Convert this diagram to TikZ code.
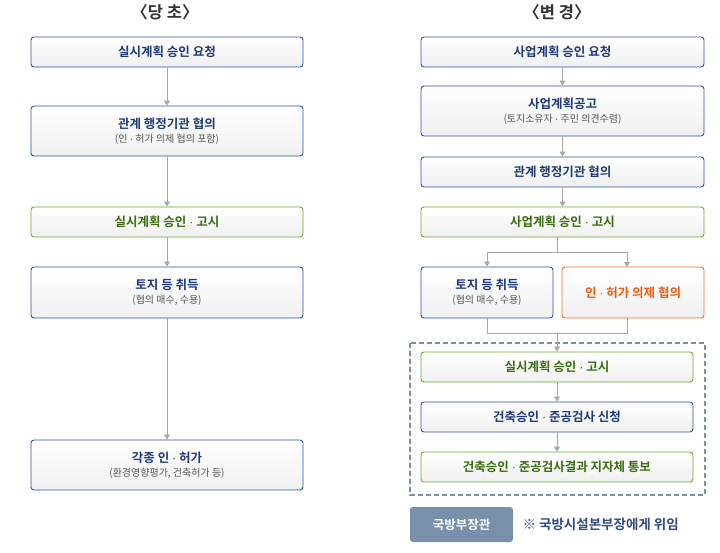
\documentclass[tikz,border=0pt]{standalone}
\usepackage{fontspec}
\setmainfont{Noto Sans CJK KR}
\newfontfamily\kb{Noto Sans CJK KR Bold}
\newfontfamily\dotf{Liberation Sans}
\newcommand{\md}{{\dotf ·}}
\usetikzlibrary{arrows.meta}
\definecolor{bl}{HTML}{2A52A8}
\definecolor{blt}{HTML}{1F3A7A}
\definecolor{gr}{HTML}{6AAA30}
\definecolor{grt}{HTML}{3A6E10}
\definecolor{orb}{HTML}{FF6A30}
\definecolor{ort}{HTML}{F25A10}
\definecolor{ln}{HTML}{A8A8A8}
\definecolor{sub}{HTML}{555555}
\definecolor{lg}{HTML}{7890AA}
\tikzset{
 bx/.style={draw=bl,line width=0.9pt,rounded corners=3pt,top color=white,bottom color=black!6,align=center,text=blt,font=\kb\fontsize{12.5}{15}\selectfont},
 gbx/.style={bx,draw=gr,text=grt},
 obx/.style={bx,draw=orb,text=ort},
 ar/.style={draw=ln,line width=0.8pt,-{Triangle[length=5pt,width=6pt]}},
 lnk/.style={draw=ln,line width=0.8pt}
}
\newcommand{\twol}[2]{#1\\[-1pt]{\fontspec{Noto Sans CJK KR}\fontsize{10}{12}\selectfont\color{sub}#2}}
\begin{document}
\begin{tikzpicture}[x=1pt,y=-1pt]
\useasboundingbox (0,0) rectangle (720,552);
\node[font=\kb\fontsize{16.5}{19}\selectfont,text=black!80] (h1) at (165,12) {〈당 초〉};
\node[font=\kb\fontsize{16.5}{19}\selectfont,text=black!80] (h2) at (557,12) {〈변 경〉};
% left
\node[bx,minimum width=272pt,minimum height=30pt] (l1) at (167,52) {실시계획 승인 요청};
\node[bx,minimum width=272pt,minimum height=50pt] (l2) at (167,131) {\twol{관계 행정기관 협의}{(인 \md{} 허가 의제 협의 포함)}};
\node[gbx,minimum width=272pt,minimum height=30pt] (l3) at (167,222) {실시계획 승인 \md{} 고시};
\node[bx,minimum width=272pt,minimum height=51pt] (l4) at (167,292.5) {\twol{토지 등 취득}{(협의 매수, 수용)}};
\node[bx,minimum width=272pt,minimum height=50pt] (l5) at (167,465) {\twol{각종 인 \md{} 허가}{(환경영향평가, 건축허가 등)}};
\foreach \a/\b in {l1/l2,l2/l3,l3/l4,l4/l5} \draw[ar] (\a.south) -- (\b.north);
% right
\node[bx,minimum width=283pt,minimum height=30pt] (r1) at (562.5,52) {사업계획 승인 요청};
\node[bx,minimum width=283pt,minimum height=50pt] (r2) at (562.5,111) {\twol{사업계획공고}{(토지소유자 \md{} 주민 의견수렴)}};
\node[bx,minimum width=283pt,minimum height=30pt] (r3) at (562.5,172) {관계 행정기관 협의};
\node[gbx,minimum width=283pt,minimum height=30pt] (r4) at (562.5,222) {사업계획 승인 \md{} 고시};
\node[bx,minimum width=132pt,minimum height=51pt] (r5) at (487,292.5) {\twol{토지 등 취득}{(협의 매수, 수용)}};
\node[obx,minimum width=142pt,minimum height=51pt] (r6) at (633,292.5) {인 \md{} 허가 의제 협의};
\draw[ar] (r1.south) -- (r2.north);
\draw[ar] (r2.south) -- (r3.north);
\draw[ar] (r3.south) -- (r4.north);
\coordinate (sp) at (557,252);
\draw[lnk] (557,237) -- (sp);
\draw[ar] (487,252) -- (r5.north);
\draw[ar] (627,252) -- (627,267);
\draw[lnk] (487,252) -- (627,252);
\draw[lnk] (r5.south) -- (487,333) -- (627,333) -- (627,318);
\draw[draw=lg,line width=1.2pt,dash pattern=on 5pt off 3pt] (410,343) rectangle (705,495);
\node[gbx,minimum width=272pt,minimum height=30pt] (r7) at (557,367) {실시계획 승인 \md{} 고시};
\node[bx,minimum width=272pt,minimum height=30pt] (r8) at (557,417) {건축승인 \md{} 준공검사 신청};
\node[gbx,minimum width=272pt,minimum height=30pt] (r9) at (557,467) {건축승인 \md{} 준공검사결과 지자체 통보};
\draw[ar] (557,333) -- (r7.north);
\draw[ar] (r7.south) -- (r8.north);
\draw[ar] (r8.south) -- (r9.north);
\node[fill=lg,rounded corners=3pt,minimum width=103pt,minimum height=35pt,text=white,font=\kb\fontsize{12.5}{15}\selectfont] (lgb) at (461.5,524.5) {국방부장관};
\node[anchor=west,text=blt!80!lg,font=\kb\fontsize{13.5}{16}\selectfont] (lgt) at (519,524.5) {※ 국방시설본부장에게 위임};
\end{tikzpicture}
\end{document}
